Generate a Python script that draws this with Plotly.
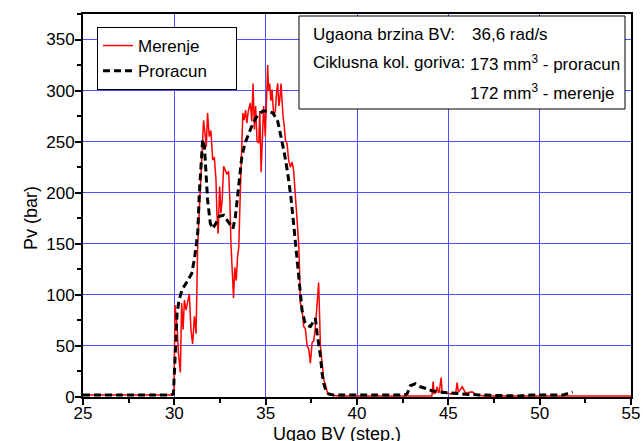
import plotly.graph_objects as go

# Measured pressure (Merenje)
mer_x = [25, 29.9, 29.98, 30.04, 30.15, 30.22, 30.33, 30.4, 30.48, 30.55, 30.64, 30.73, 30.82,
         30.91, 31.0, 31.1, 31.19, 31.28, 31.37, 31.46, 31.55, 31.6, 31.68, 31.75, 31.82, 31.91,
         32.0, 32.1, 32.19, 32.28, 32.33, 32.4, 32.48, 32.55, 32.62, 32.7, 32.79, 32.88, 32.97,
         33.04, 33.1, 33.17, 33.24, 33.31, 33.39, 33.46, 33.53, 33.6, 33.68, 33.75, 33.82, 33.9,
         33.97, 34.05, 34.16, 34.24, 34.31, 34.38, 34.45, 34.53, 34.62, 34.68, 34.75, 34.82,
         34.89, 34.98, 35.05, 35.11, 35.16, 35.22, 35.28, 35.35, 35.44, 35.53, 35.6, 35.66,
         35.72, 35.77, 35.84, 35.9, 35.95, 36.02, 36.08, 36.17, 36.26, 36.35, 36.45, 36.53,
         36.63, 36.72, 36.81, 36.85, 36.9, 36.99, 37.08, 37.17, 37.27, 37.36, 37.45, 37.54,
         37.63, 37.72, 37.81, 37.9, 38.0, 38.09, 38.18, 38.27, 38.4, 38.54, 39.0, 44.1, 44.17,
         44.22, 44.3, 44.39, 44.45, 44.5, 44.61, 44.66, 44.84, 45.2, 45.4, 45.48, 45.55, 45.61,
         45.76, 45.94, 46.3, 46.58, 47.0, 55.0]
mer_y = [2, 2, 3, 90, 69, 44, 24, 92, 66, 95, 85, 92, 101,
         66, 52, 79, 62, 150, 183, 225, 261, 271, 258, 245, 278, 255,
         261, 232, 235, 213, 180, 160, 206, 180, 193, 226, 222, 218, 221,
         193, 150, 127, 97, 127, 114, 137, 147, 193, 242, 278, 271, 281,
         268, 280, 288, 270, 307, 262, 285, 250, 249, 280, 220, 265,
         285, 255, 290, 325, 300, 307, 290, 301, 275, 280, 300, 307,
         285, 290, 307, 280, 275, 265, 252, 248, 232, 225, 230, 222,
         195, 167, 150, 128, 92, 86, 69, 67, 50, 47, 33, 53,
         55, 68, 94, 112, 49, 30, 17, 12, 3, 2, 1, 1, 15,
         3, 4, 10, 4, 5, 19, 4, 4, 3, 3, 14, 5, 6,
         10, 4, 5, 2, 1, 1]

# Computed pressure (Proracun)
pro_x = [25, 29.8, 29.95, 30.05, 30.15, 30.25, 30.42, 30.7, 30.95, 31.1, 31.28, 31.37, 31.46,
         31.55, 31.65, 31.75, 31.82, 31.97, 32.1, 32.28, 32.45, 32.7, 32.88, 33.07, 33.21,
         33.34, 33.43, 33.52, 33.61, 33.7, 33.88, 34.05, 34.3, 34.57, 34.85, 35.1, 35.4,
         35.66, 35.84, 36.02, 36.2, 36.38, 36.55, 36.72, 36.87, 36.99, 37.13, 37.3, 37.45,
         37.6, 37.72, 37.82, 37.9, 38.0, 38.09, 38.18, 38.3, 38.45, 38.7, 42.6, 42.74, 42.92,
         43.2, 43.47, 43.84, 44.11, 44.48, 45.02, 45.75, 46.67, 47.58, 48.86, 49.59, 51.3, 51.8]
pro_y = [2, 2, 3, 43, 82, 94, 105, 113, 121, 135, 160, 200, 232,
         252, 245, 215, 193, 170, 165, 170, 177, 178, 173, 168, 165,
         176, 190, 206, 220, 236, 249, 256, 268, 276, 280, 280, 278,
         270, 255, 239, 220, 196, 166, 134, 105, 85, 74, 70, 69,
         73, 77, 62, 53, 40, 23, 13, 6, 3, 2, 2, 3, 11,
         13, 10, 8, 6, 5, 4, 3, 2, 1.5, 1, 2, 2, 5]

x_ticks = [25, 30, 35, 40, 45, 50, 55]
y_ticks = [0, 50, 100, 150, 200, 250, 300, 350]

info_lines = [
    ("Ugaona brzina BV:", "36,6 rad/s"),
    ("Ciklusna kol. goriva:", "173 mm<sup>3</sup> - proracun"),
    ("", "172 mm<sup>3</sup> - merenje"),
]

FONT = "Liberation Sans, Arial, sans-serif"
L, R, T, B = 83, 12, 14, 44
W, H = 643, 441
PW, PH = W - L - R, H - T - B


def px2x(px):
    return (px - L) / PW


def py2y(py):
    return 1 - (py - T) / PH


fig = go.Figure()
fig.add_trace(go.Scatter(x=mer_x, y=mer_y, mode="lines", name="Merenje",
                         line=dict(color="#ff0000", width=1.5)))
fig.add_trace(go.Scatter(x=pro_x, y=pro_y, mode="lines",
                         name="Proracun\u00a0\u00a0\u00a0\u00a0\u00a0",
                         line=dict(color="#000000", width=3, dash="7px,4px")))

axis_common = dict(
    showline=True, linecolor="black", linewidth=2, mirror=True,
    showgrid=True, gridcolor="#5050ff", gridwidth=1,
    ticks="outside", ticklen=6, tickwidth=1.5, tickcolor="black",
    zeroline=False, automargin=False,
    tickfont=dict(family=FONT, size=17, color="black"),
)

fig.update_xaxes(range=[25, 55], tickvals=x_ticks, ticklabelstandoff=-6,
                 minor=dict(dtick=2.5, ticks="outside", ticklen=4, tickcolor="black", showgrid=False),
                 **axis_common)
fig.update_yaxes(range=[0, 375], tickvals=y_ticks, ticklabelstandoff=-3,
                 minor=dict(dtick=25, ticks="outside", ticklen=4, tickcolor="black", showgrid=False),
                 **axis_common)

# Info box
fig.add_shape(type="rect", xref="paper", yref="paper",
              x0=px2x(299), x1=px2x(625), y0=py2y(109), y1=py2y(16),
              line=dict(color="black", width=1), fillcolor="white", layer="above")

rows_py = [34, 63, 92]
for (left, right), py in zip(info_lines, rows_py):
    if left:
        fig.add_annotation(x=px2x(310.5), y=py2y(py), xref="paper", yref="paper",
                           text=left, showarrow=False, xanchor="left", yanchor="middle",
                           font=dict(family=FONT, size=17, color="black"))
    fig.add_annotation(x=px2x(470 if py == 34 else 468), y=py2y(py), xref="paper", yref="paper",
                       text=right, showarrow=False, xanchor="left", yanchor="middle",
                       font=dict(family=FONT, size=17, color="black"))

# Axis titles
fig.add_annotation(x=px2x(337), y=py2y(434), xref="paper", yref="paper",
                   text="Ugao BV (step.)", showarrow=False, xanchor="center", yanchor="middle",
                   font=dict(family=FONT, size=18, color="black"))
fig.add_annotation(x=px2x(31), y=py2y(218), xref="paper", yref="paper",
                   text="Pv (bar)", showarrow=False, textangle=-90,
                   xanchor="center", yanchor="middle",
                   font=dict(family=FONT, size=18, color="black"))

fig.update_layout(
    width=W, height=H,
    margin=dict(l=L, r=R, t=T, b=B, autoexpand=False),
    paper_bgcolor="white", plot_bgcolor="white",
    showlegend=True,
    legend=dict(x=px2x(97), y=py2y(27), xanchor="left", yanchor="top",
                bgcolor="white", bordercolor="black", borderwidth=1,
                font=dict(family=FONT, size=17, color="black"),
                tracegroupgap=0, itemwidth=30),
)

fig.write_html("out.html",
               config={"displayModeBar": False},
               post_script="document.body.style.margin='0';document.body.style.overflow='hidden';")
